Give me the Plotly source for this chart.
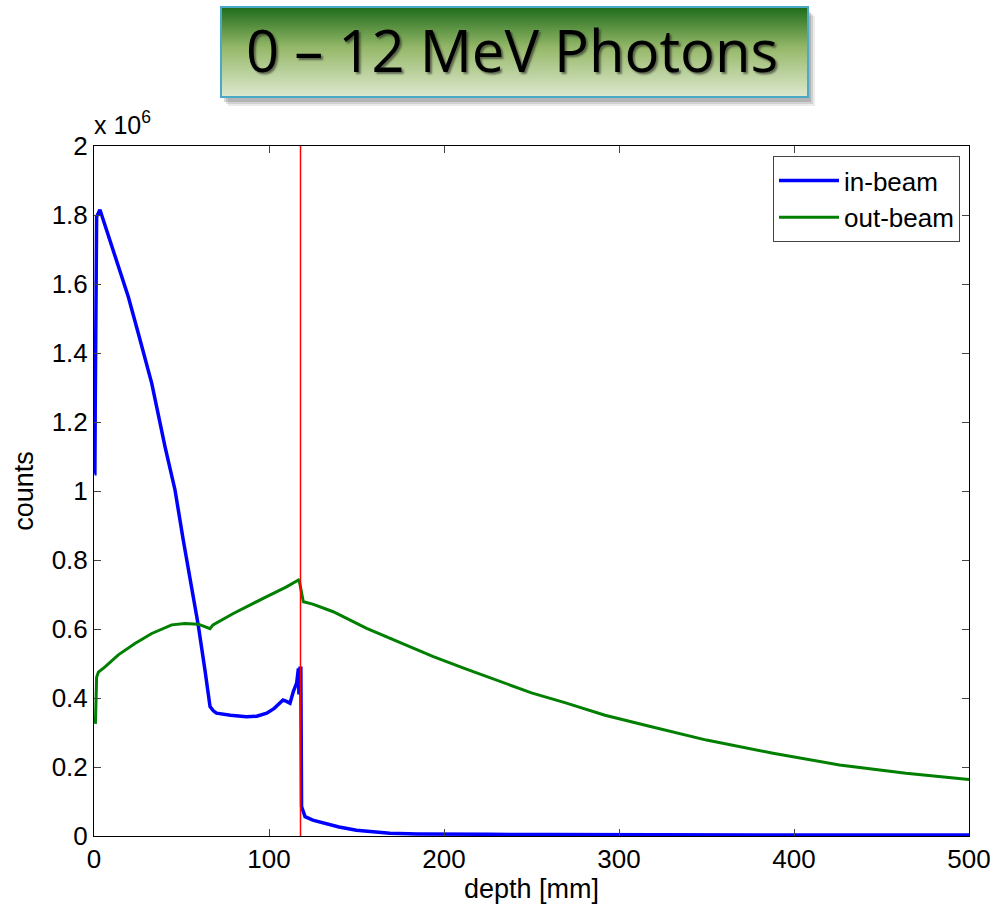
import plotly.graph_objects as go

# ---------------- data (counts in units of 1e6) ----------------
in_beam_depth = [0.3, 0.5, 0.7, 1.0, 1.5, 3.4, 8, 12, 19.6, 25.3, 33, 40.6, 46.3, 51, 55,
                 59.6, 63.4, 65.3, 66.3, 68.2, 70, 78, 87, 93, 98.7, 103, 106, 108, 110,
                 112, 114, 115.8, 116.8, 117.1, 117.7, 118.2, 118.6, 120.6, 125, 131, 140,
                 150, 160, 169, 185, 200, 226, 260, 300, 350, 400, 450, 500]
in_beam = [1.05, 1.05, 1.24, 1.6, 1.795, 1.815, 1.743, 1.68, 1.563, 1.457, 1.312, 1.128,
           1.003, 0.858, 0.74, 0.61, 0.481, 0.414, 0.375, 0.363, 0.356, 0.35, 0.346, 0.347,
           0.356, 0.37, 0.385, 0.394, 0.39, 0.385, 0.42, 0.443, 0.486, 0.41, 0.486, 0.486,
           0.085, 0.056, 0.046, 0.037, 0.026, 0.017, 0.012, 0.008, 0.006, 0.005, 0.005,
           0.004, 0.003, 0.003, 0.003, 0.003, 0.003]

out_beam_depth = [0.8, 1.5, 2.5, 6.3, 13.9, 23.4, 33, 44.4, 52, 59.6, 66.3, 68, 79.6, 89,
                  98.7, 110, 115.8, 116.8, 117.5, 119, 119.6, 125, 136.7, 155.8, 175,
                  193.9, 212, 232, 250, 270, 292, 316.8, 350, 388, 426, 464, 500]
out_beam = [0.325, 0.46, 0.475, 0.49, 0.525, 0.558, 0.587, 0.612, 0.616, 0.614, 0.601,
            0.612, 0.645, 0.668, 0.694, 0.722, 0.737, 0.742, 0.735, 0.685, 0.679, 0.672,
            0.65, 0.602, 0.56, 0.52, 0.485, 0.447, 0.415, 0.385, 0.35, 0.319, 0.278,
            0.24, 0.206, 0.182, 0.164]

beam_edge_mm = 118
x_ticks = [0, 100, 200, 300, 400, 500]
y_ticks = [0, 0.2, 0.4, 0.6, 0.8, 1.0, 1.2, 1.4, 1.6, 1.8, 2.0]
y_tick_labels = ["0", "0.2", "0.4", "0.6", "0.8", "1", "1.2", "1.4", "1.6", "1.8", "2"]
title_text = "0 \u2013 12 MeV Photons"

# ---------------- layout geometry ----------------
W, H = 1005, 904
L, R, T, B = 94, 36, 146, 68
PW, PH = W - L - R, H - T - B


def px(x):
    return (x - L) / PW


def py(y):
    return (H - B - y) / PH


FONT = "Liberation Sans, Arial, sans-serif"

fig = go.Figure()
fig.add_trace(go.Scatter(x=in_beam_depth, y=in_beam, mode="lines", name="in-beam",
                         line=dict(color="#0000ff", width=3.5)))
fig.add_trace(go.Scatter(x=out_beam_depth, y=out_beam, mode="lines", name="out-beam",
                         line=dict(color="#007f00", width=3)))
fig.add_trace(go.Scatter(x=[beam_edge_mm, beam_edge_mm], y=[y_ticks[0], y_ticks[-1]],
                         mode="lines", showlegend=False,
                         line=dict(color="#ff0000", width=1.5)))

shapes = []
# title box shadow
bx0, bx1, by0, by1 = 221, 808, 7, 97
for off, op in [(9, 0.10), (7, 0.15), (5, 0.2)]:
    shapes.append(dict(type="rect", xref="paper", yref="paper", layer="below",
                       x0=px(bx0 + off - 2), x1=px(bx1 + off - 2),
                       y0=py(by0 + off), y1=py(by1 + off),
                       fillcolor="rgba(60,60,60,%.2f)" % op, line=dict(width=0)))
# gradient strips
stops = [(0.0, (30, 108, 28)), (0.45, (150, 184, 105)), (1.0, (222, 234, 208))]


def grad(t):
    for (t0, c0), (t1, c1) in zip(stops[:-1], stops[1:]):
        if t0 <= t <= t1:
            f = (t - t0) / (t1 - t0)
            return "rgb(%d,%d,%d)" % tuple(int(a + (b - a) * f) for a, b in zip(c0, c1))
    return "rgb(%d,%d,%d)" % stops[-1][1]


n = 45
for i in range(n):
    y0 = by0 + (by1 - by0) * i / n
    y1 = by0 + (by1 - by0) * (i + 1) / n + 0.6
    shapes.append(dict(type="rect", xref="paper", yref="paper", layer="below",
                       x0=px(bx0), x1=px(bx1), y0=py(y1), y1=py(y0),
                       fillcolor=grad((i + 0.5) / n), line=dict(width=0)))
shapes.append(dict(type="rect", xref="paper", yref="paper", layer="above",
                   x0=px(bx0), x1=px(bx1), y0=py(by1), y1=py(by0),
                   fillcolor="rgba(0,0,0,0)", line=dict(color="#4aa8c8", width=2)))

annotations = [
    dict(text=title_text, xref="paper", yref="paper", x=px((bx0 + bx1) / 2 - 3),
         y=py(50), xanchor="center", yanchor="middle", showarrow=False,
         font=dict(family="Open Sans, Noto Sans, sans-serif", size=58, color="#000000",
                   shadow="2px 2px 2px rgba(40,40,40,0.6)")),
    dict(text="x 10<sup>6</sup>", xref="paper", yref="paper", x=px(L - 2), y=py(141),
         xanchor="left", yanchor="bottom", showarrow=False,
         font=dict(family=FONT, size=25, color="#000000")),
]

fig.update_layout(
    width=W, height=H,
    margin=dict(l=L, r=R, t=T, b=B, autoexpand=False),
    paper_bgcolor="white", plot_bgcolor="white",
    font=dict(family=FONT, size=25, color="#000000"),
    shapes=shapes, annotations=annotations,
    legend=dict(x=px(960), y=py(156), xanchor="right", yanchor="top",
                bgcolor="white", bordercolor="#444444", borderwidth=1,
                font=dict(family=FONT, size=26, color="#000000"),
                itemwidth=60, tracegroupgap=0),
    xaxis=dict(range=[0, 500], tickvals=x_ticks, showgrid=False, zeroline=False,
               automargin=False,
               showline=True, linecolor="#000000", linewidth=1, mirror="ticks",
               ticks="inside", ticklen=7, tickcolor="#444444", tickwidth=1,
               tickfont=dict(size=26),
               title=dict(text="depth [mm]", font=dict(size=27), standoff=2)),
    yaxis=dict(range=[0, 2], tickvals=y_ticks, ticktext=y_tick_labels, showgrid=False,
               zeroline=False, showline=True, linecolor="#000000", linewidth=1,
               automargin=False,
               mirror="ticks", ticks="inside", ticklen=7, tickcolor="#444444",
               tickwidth=1, tickfont=dict(size=26),
               title=dict(text="counts", font=dict(size=27), standoff=10)),
)

fig.write_html("out.html")
